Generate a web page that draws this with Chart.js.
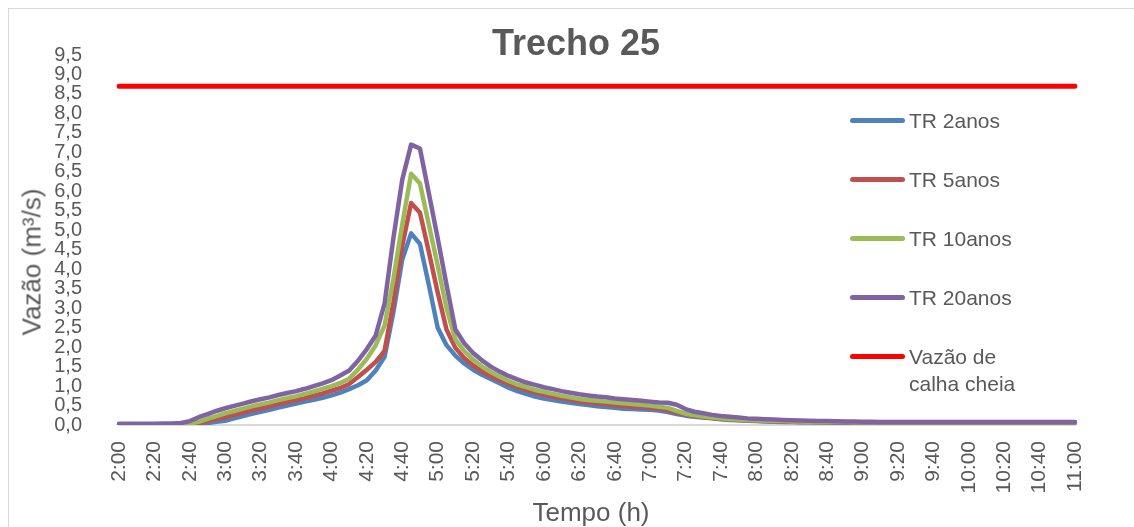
<!DOCTYPE html>
<html lang="pt-BR">
<head>
<meta charset="utf-8">
<title>Trecho 25</title>
<script src="https://cdn.jsdelivr.net/npm/chart.js@4.4.1/dist/chart.umd.min.js"></script>
<style>
  html, body { margin: 0; padding: 0; background: #fff; }
  #quadro { position: relative; width: 1134px; height: 527px; overflow: hidden; background: #fff; }
  #moldura { position: absolute; left: 8px; top: 8px; width: 1200px; height: 600px; border: 1px solid #d9d9d9; }
  #grafico { position: absolute; left: 0; top: 0; }
  .texto { position: absolute; color: #595959; font-family: "Liberation Sans", Arial, sans-serif; white-space: nowrap; }
  #titulo { left: 0; width: 1152px; top: 23px; text-align: center; font-weight: bold; font-size: 36px; line-height: 40px; }
  #eixoY { left: 32px; top: 262px; font-size: 26px; transform: translate(-50%, -50%) rotate(-90deg); }
  #eixoX { left: 591px; top: 512px; font-size: 26px; transform: translate(-50%, -50%); }
  .item { position: absolute; left: 850px; }
  .item .amostra { position: absolute; left: 0; width: 55px; height: 5px; border-radius: 3px; top: -2.5px; }
  .item .rotulo { position: absolute; left: 59px; top: -13.5px; width: 120px; font-size: 21px; line-height: 27px; color: #595959; font-family: "Liberation Sans", Arial, sans-serif; white-space: normal; }
</style>
</head>
<body>
<div id="quadro">
  <div id="moldura"></div>
  <canvas id="grafico" width="1134" height="527"></canvas>
  <div id="titulo" class="texto">Trecho 25</div>
  <div id="eixoY" class="texto">Vazão (m³/s)</div>
  <div id="eixoX" class="texto">Tempo (h)</div>
  <div id="legenda"></div>
</div>
<script>
// Hidrogramas do trecho 25 - passo de 5 min, das 2:00 às 11:00

// vazões (m³/s) por período de retorno
const tr2anos = [
  0.02, 0.02, 0.02, 0.02, 0.02, 0.02, 0.02, 0.02, 0.02, 0.03, 0.05, 0.08,
  0.11, 0.17, 0.23, 0.29, 0.34, 0.39, 0.45, 0.50, 0.55, 0.60, 0.65, 0.70,
  0.76, 0.83, 0.92, 1.02, 1.15, 1.40, 1.75, 2.90, 4.25, 4.92, 4.65, 3.60,
  2.50, 2.05, 1.78, 1.58, 1.42, 1.29, 1.18, 1.07, 0.96, 0.87, 0.80, 0.73,
  0.68, 0.64, 0.60, 0.57, 0.54, 0.51, 0.48, 0.46, 0.44, 0.42, 0.41, 0.40,
  0.39, 0.37, 0.33, 0.28, 0.24, 0.21, 0.19, 0.17, 0.15, 0.13, 0.12, 0.11,
  0.10, 0.09, 0.085, 0.08, 0.075, 0.07, 0.07, 0.065, 0.065, 0.06, 0.06, 0.06,
  0.06, 0.06, 0.06, 0.06, 0.06, 0.06, 0.06, 0.06, 0.06, 0.06, 0.06, 0.06,
  0.06, 0.06, 0.06, 0.06, 0.06, 0.06, 0.06, 0.06, 0.06, 0.06, 0.06, 0.06,
  0.06
];
const tr5anos = [
  0.02, 0.02, 0.02, 0.02, 0.02, 0.02, 0.02, 0.02, 0.02, 0.05, 0.10, 0.15,
  0.20, 0.26, 0.32, 0.38, 0.43, 0.48, 0.54, 0.59, 0.64, 0.69, 0.75, 0.81,
  0.88, 0.95, 1.05, 1.23, 1.42, 1.62, 1.90, 3.15, 4.60, 5.70, 5.45, 4.45,
  3.40, 2.45, 1.98, 1.72, 1.53, 1.38, 1.26, 1.15, 1.06, 0.97, 0.90, 0.83,
  0.78, 0.73, 0.69, 0.65, 0.61, 0.58, 0.56, 0.53, 0.51, 0.49, 0.47, 0.46,
  0.44, 0.42, 0.38, 0.32, 0.27, 0.23, 0.20, 0.18, 0.16, 0.14, 0.13, 0.12,
  0.11, 0.10, 0.095, 0.09, 0.085, 0.08, 0.08, 0.075, 0.07, 0.07, 0.07, 0.065,
  0.065, 0.065, 0.065, 0.065, 0.065, 0.065, 0.065, 0.065, 0.065, 0.065, 0.065, 0.065,
  0.065, 0.065, 0.065, 0.065, 0.065, 0.065, 0.065, 0.065, 0.065, 0.065, 0.065, 0.065,
  0.065
];
const tr10anos = [
  0.02, 0.02, 0.02, 0.02, 0.02, 0.02, 0.02, 0.02, 0.03, 0.08, 0.16, 0.23,
  0.30, 0.36, 0.42, 0.48, 0.53, 0.58, 0.64, 0.69, 0.74, 0.80, 0.86, 0.93,
  1.00, 1.08, 1.19, 1.42, 1.70, 2.05, 2.55, 3.75, 5.15, 6.45, 6.20, 5.15,
  4.10, 3.00, 2.20, 1.90, 1.68, 1.50, 1.36, 1.24, 1.13, 1.04, 0.97, 0.90,
  0.85, 0.80, 0.75, 0.71, 0.67, 0.64, 0.62, 0.60, 0.58, 0.56, 0.54, 0.52,
  0.50, 0.47, 0.44, 0.36, 0.29, 0.25, 0.22, 0.19, 0.17, 0.15, 0.14, 0.13,
  0.12, 0.11, 0.10, 0.10, 0.09, 0.09, 0.085, 0.08, 0.08, 0.075, 0.075, 0.07,
  0.07, 0.07, 0.07, 0.07, 0.07, 0.07, 0.07, 0.07, 0.07, 0.07, 0.07, 0.07,
  0.07, 0.07, 0.07, 0.07, 0.07, 0.07, 0.07, 0.07, 0.07, 0.07, 0.07, 0.07,
  0.07
];
const tr20anos = [
  0.03, 0.03, 0.03, 0.03, 0.03, 0.04, 0.04, 0.05, 0.10, 0.20, 0.28, 0.36,
  0.43, 0.49, 0.55, 0.61, 0.66, 0.71, 0.77, 0.82, 0.87, 0.93, 1.00, 1.07,
  1.15, 1.27, 1.40, 1.65, 1.95, 2.30, 3.12, 4.80, 6.30, 7.20, 7.10, 5.95,
  4.80, 3.60, 2.45, 2.10, 1.85, 1.66, 1.50, 1.37, 1.26, 1.17, 1.09, 1.03,
  0.97, 0.92, 0.87, 0.83, 0.79, 0.76, 0.73, 0.71, 0.68, 0.66, 0.64, 0.62,
  0.60, 0.58, 0.57, 0.52, 0.41, 0.34, 0.30, 0.26, 0.23, 0.21, 0.19, 0.17,
  0.16, 0.15, 0.14, 0.13, 0.12, 0.115, 0.11, 0.105, 0.10, 0.095, 0.09, 0.09,
  0.085, 0.085, 0.08, 0.08, 0.08, 0.08, 0.08, 0.08, 0.08, 0.08, 0.08, 0.08,
  0.08, 0.08, 0.08, 0.08, 0.08, 0.08, 0.08, 0.08, 0.08, 0.08, 0.08, 0.08,
  0.08
];
// capacidade da calha (m³/s)
const calhaCheia = 8.7;

const nomes = ["TR 2anos", "TR 5anos", "TR 10anos", "TR 20anos", "Vazão de calha cheia"];
const cores = ["#4f81bd", "#c0504d", "#9bbb59", "#8064a2", "#ff0000"];

// horários 2:00, 2:05, ... 11:00
const horarios = [];
for (let m = 2 * 60; m <= 11 * 60; m += 5) {
  horarios.push(Math.floor(m / 60) + ":" + String(m % 60).padStart(2, "0"));
}

const fonteEixo = '"Liberation Sans", Arial, sans-serif';
const corTexto = "#595959";

const series = [tr2anos, tr5anos, tr10anos, tr20anos, horarios.map(() => calhaCheia)];
// TR 20anos por cima das demais
const ordem = [4, 3, 2, 1, 0];

new Chart(document.getElementById("grafico"), {
  type: "line",
  data: {
    labels: horarios,
    datasets: series.map((dados, i) => ({
      label: nomes[i],
      data: dados,
      borderColor: cores[i],
      backgroundColor: cores[i],
      borderWidth: i === 4 ? 5 : 4.5,
      order: ordem[i],
    })),
  },
  options: {
    responsive: false,
    animation: false,
    layout: { padding: { top: 55, right: 59, bottom: 0, left: 0 } },
    elements: {
      point: { radius: 0, hoverRadius: 0 },
      line: { tension: 0, borderCapStyle: "round", borderJoinStyle: "round", fill: false },
    },
    plugins: {
      legend: { display: false },
      title: { display: false },
      tooltip: { enabled: false },
    },
    scales: {
      x: {
        offset: false,
        grid: { display: false },
        border: { display: true, color: "#d9d9d9", width: 2 },
        ticks: {
          autoSkip: false,
          minRotation: 90,
          maxRotation: 90,
          padding: 8,
          color: corTexto,
          font: { family: fonteEixo, size: 21 },
          callback: function (valor, i) {
            return i % 4 === 0 ? this.getLabelForValue(valor) : null;
          },
        },
        afterFit: (escala) => { escala.height = 102; },
      },
      y: {
        min: 0,
        max: 9.5,
        grid: { display: false },
        border: { display: false },
        ticks: {
          stepSize: 0.5,
          autoSkip: false,
          padding: 29,
          color: corTexto,
          font: { family: fonteEixo, size: 20 },
          callback: (v) => v.toFixed(1).replace(".", ","),
        },
        afterFit: (escala) => { escala.width = 119; },
      },
    },
  },
});

// legenda à direita
const legenda = document.getElementById("legenda");
nomes.forEach((nome, i) => {
  const item = document.createElement("div");
  item.className = "item";
  item.style.top = (120 + i * 59.2) + "px";
  item.innerHTML = '<div class="amostra" style="background:' + cores[i] + '"></div><div class="rotulo">' + nome + "</div>";
  legenda.appendChild(item);
});
</script>
</body>
</html>
